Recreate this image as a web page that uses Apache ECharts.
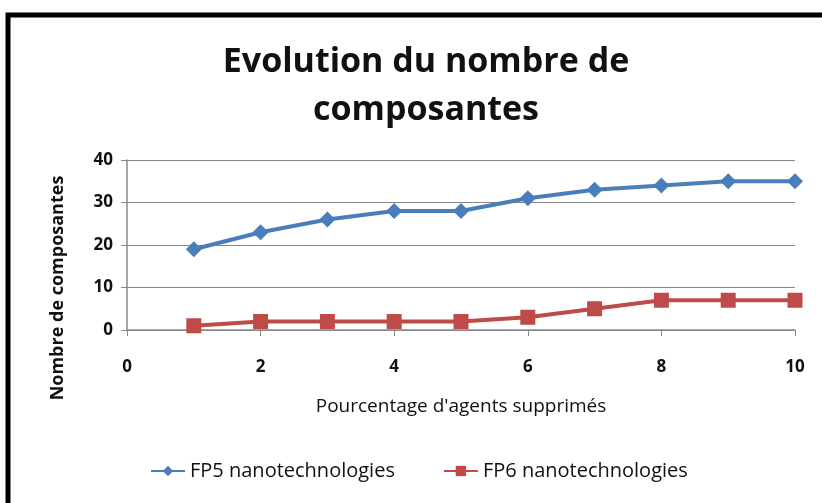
<!DOCTYPE html>
<html>
<head>
<meta charset="utf-8">
<script src="https://cdn.jsdelivr.net/npm/echarts@6/dist/echarts.min.js"></script>
<style>
  html, body { margin: 0; padding: 0; background: #fff; }
  #chart { width: 822px; height: 503px; }
</style>
</head>
<body>
<div id="chart"></div>
<script>
  // données
  var xValues = [1, 2, 3, 4, 5, 6, 7, 8, 9, 10];
  var fp5 = [19, 23, 26, 28, 28, 31, 33, 34, 35, 35];
  var fp6 = [1, 2, 2, 2, 2, 3, 5, 7, 7, 7];
  var seriesNames = ['FP5 nanotechnologies', 'FP6 nanotechnologies'];

  function pairs(xs, ys) {
    return xs.map(function (x, i) { return [x, ys[i]]; });
  }

  var chart = echarts.init(document.getElementById('chart'));
  var font = 'Open Sans';
  var option = {
    animation: false,
    backgroundColor: '#fff',
    title: {
      text: 'Evolution du nombre de\ncomposantes',
      left: 421,
      textAlign: 'center',
      top: 33,
      textStyle: { fontFamily: font, fontSize: 34, fontWeight: 'bold', color: '#111', lineHeight: 48 }
    },
    legend: {
      top: 456,
      left: 145,
      itemGap: 48,
      itemWidth: 34,
      itemHeight: 13,
      textStyle: { fontFamily: font, fontSize: 20, color: '#111' },
      data: seriesNames
    },
    grid: { left: 127, right: 27, top: 160, bottom: 173 },
    xAxis: {
      type: 'value',
      min: 0, max: 10, interval: 2,
      name: "Pourcentage d'agents supprimés",
      nameLocation: 'middle',
      nameGap: 67,
      nameTextStyle: { fontFamily: font, fontSize: 19, color: '#111' },
      axisLine: { lineStyle: { color: '#888', width: 1.5 } },
      axisTick: { show: true, length: 6, lineStyle: { color: '#888' } },
      axisLabel: { fontFamily: font, fontSize: 17, fontWeight: 'bold', color: '#111', margin: 29 },
      splitLine: { show: false }
    },
    yAxis: {
      type: 'value',
      min: 0, max: 40, interval: 10,
      axisLine: { show: true, lineStyle: { color: '#888', width: 1.5 } },
      axisTick: { show: true, length: 6, lineStyle: { color: '#888' } },
      axisLabel: { fontFamily: font, fontSize: 17, fontWeight: 'bold', color: '#111', margin: 14 },
      splitLine: { lineStyle: { color: '#888', width: 1.2 } }
    },
    graphic: [
      {
        type: 'rect',
        shape: { x: 8, y: 15, width: 840, height: 520 },
        style: { fill: 'none', stroke: '#000', lineWidth: 5 },
        z: 100
      },
      {
        type: 'text',
        x: 58, y: 288,
        rotation: Math.PI / 2,
        style: {
          text: 'Nombre de composantes',
          fontFamily: font, fontSize: 18, fontWeight: 'bold', fill: '#111',
          align: 'center', verticalAlign: 'middle'
        }
      }
    ],
    series: [
      {
        name: seriesNames[0],
        type: 'line',
        data: pairs(xValues, fp5),
        symbol: 'diamond',
        symbolSize: 16,
        lineStyle: { color: '#4a7ebb', width: 4 },
        itemStyle: { color: '#4a7ebb' }
      },
      {
        name: seriesNames[1],
        type: 'line',
        data: pairs(xValues, fp6),
        symbol: 'rect',
        symbolSize: 15,
        lineStyle: { color: '#be4b48', width: 4 },
        itemStyle: { color: '#be4b48' }
      }
    ]
  };
  chart.setOption(option);
</script>
</body>
</html>
